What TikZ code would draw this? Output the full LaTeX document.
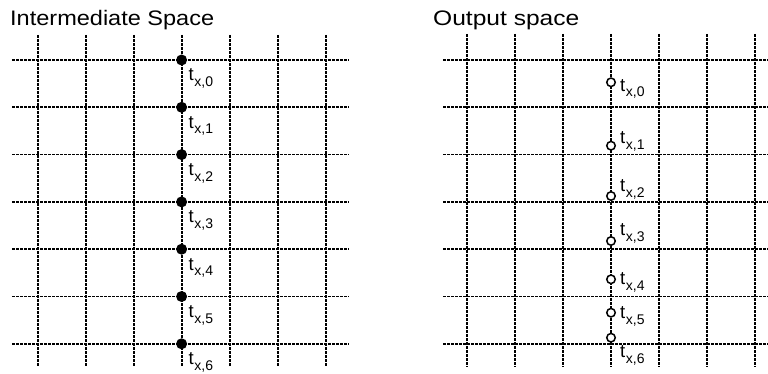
\documentclass[tikz,border=0pt]{standalone}
\usepackage{fontspec}
\setmainfont{Liberation Sans}
\newcommand{\tlab}[1]{t\kern0.6pt\raisebox{-5.5pt}{\fontsize{14}{14}\selectfont x,#1}}
\begin{document}
\begin{tikzpicture}[x=1pt,y=-1pt,
  gridline/.style={line width=1.8pt, dash pattern=on 3pt off 1pt},
  fdot/.style={circle, fill=black, inner sep=0pt, minimum size=11pt},
  odot/.style={circle, draw=black, fill=white, line width=1.5pt, inner sep=0pt, minimum size=8.5pt},
  lab/.style={anchor=base west, inner sep=0pt, font=\fontsize{18.5}{18.5}\selectfont},
  ttl/.style={anchor=base west, inner sep=0pt, font=\fontsize{21}{21}\selectfont}]
\useasboundingbox (0,0) rectangle (768,374);
\fill[white] (0,0) rectangle (768,374);
% left grid
\foreach \i in {0,...,6} {
  \draw[gridline] ({37.7+48*\i},35) -- ({37.7+48*\i},366);
  \draw[gridline] (12,{60+47.3*\i}) -- (349,{60+47.3*\i});
}
% right grid
\foreach \i in {0,...,6} {
  \draw[gridline] ({467.2+47.95*\i},34) -- ({467.2+47.95*\i},367);
  \draw[gridline] (443,{60+47.3*\i}) -- (768,{60+47.3*\i});
}
% titles
\node[ttl] (t1) at (10,25.7) {\scalebox{1.12}[1]{Intermediate Space}};
\node[ttl] (t2) at (433,26) {\scalebox{1.17}[1]{Output space}};
% left dots and labels
\foreach \j in {0,...,6} {
  \node[fdot] (L\j) at (181.6,{60+47.3*\j}) {};
  \node[lab] (LL\j) at (188.5,{81+47.3*\j}) {\tlab{\j}};
}
% right circles and labels
\foreach \j/\y/\o in {0/82.3/9, 1/145.7/-2, 2/196/-4, 3/241/-5, 4/279.3/5.4, 5/312.7/6, 6/337.7/20} {
  \node[odot] (R\j) at (611,\y) {};
  \node[lab] (RL\j) at (620,{\y+\o}) {\tlab{\j}};
}
\end{tikzpicture}
\end{document}
